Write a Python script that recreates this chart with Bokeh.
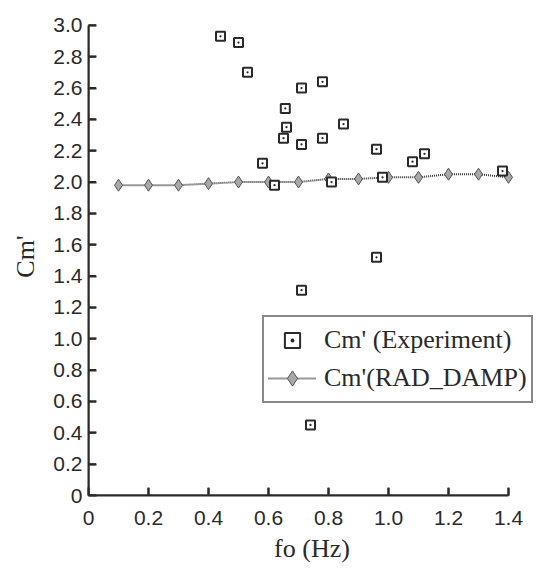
import math
from bokeh.plotting import figure
from bokeh.models import Range1d, FixedTicker, Legend, LegendItem
from bokeh.embed import file_html
from bokeh.resources import INLINE

# Experimental Cm' values
exp_f = [0.44, 0.50, 0.53, 0.58, 0.62, 0.65, 0.656, 0.66, 0.71, 0.71, 0.71,
         0.74, 0.78, 0.78, 0.81, 0.85, 0.96, 0.96, 0.98, 1.08, 1.12, 1.38]
exp_cm = [2.93, 2.89, 2.70, 2.12, 1.98, 2.28, 2.47, 2.35, 2.60, 2.24, 1.31,
          0.45, 2.64, 2.28, 2.00, 2.37, 2.21, 1.52, 2.03, 2.13, 2.18, 2.07]

# RAD_DAMP computed Cm'
rad_f = [0.1, 0.2, 0.3, 0.4, 0.5, 0.6, 0.7, 0.8, 0.9, 1.0, 1.1, 1.2, 1.3, 1.4]
rad_cm = [1.98, 1.98, 1.98, 1.99, 2.00, 2.00, 2.00, 2.02, 2.02, 2.03, 2.03,
          2.05, 2.05, 2.03]

xticks = [0, 0.2, 0.4, 0.6, 0.8, 1.0, 1.2, 1.4]
xtick_labels = ["0", "0.2", "0.4", "0.6", "0.8", "1.0", "1.2", "1.4"]
yticks = [0, 0.2, 0.4, 0.6, 0.8, 1.0, 1.2, 1.4, 1.6, 1.8, 2.0, 2.2, 2.4,
          2.6, 2.8, 3.0]
ytick_labels = ["0", "0.2", "0.4", "0.6", "0.8", "1.0", "1.2", "1.4", "1.6",
                "1.8", "2.0", "2.2", "2.4", "2.6", "2.8", "3.0"]

INK = "#2a2a2a"

p = figure(width=535, height=568, output_backend="svg", toolbar_location=None,
           x_range=Range1d(0, 1.49), y_range=Range1d(0, 3.05),
           min_border_left=88, min_border_top=17, min_border_right=0,
           min_border_bottom=73)
p.outline_line_color = None
p.xgrid.grid_line_color = None
p.ygrid.grid_line_color = None

for ax, ticks, labels in ((p.xaxis[0], xticks, xtick_labels),
                          (p.yaxis[0], yticks, ytick_labels)):
    ax.ticker = FixedTicker(ticks=ticks)
    ax.major_label_overrides = dict(zip(ticks, labels))
    ax.minor_tick_line_color = None
    ax.major_tick_in = 8
    ax.major_tick_out = 0
    ax.major_tick_line_width = 2
    ax.major_tick_line_color = INK
    ax.axis_line_width = 2
    ax.axis_line_color = INK
    ax.major_label_text_font = "Liberation Sans"
    ax.major_label_text_font_size = "21px"
    ax.major_label_text_color = INK
    ax.axis_label_text_font = "Liberation Serif"
    ax.axis_label_text_font_style = "normal"
    ax.axis_label_text_font_size = "26px"
    ax.axis_label_text_color = INK

p.xaxis.bounds = (xticks[0], xticks[-1])
p.yaxis.bounds = (yticks[0], yticks[-1])
p.xaxis.axis_label = "fo (Hz)"
p.yaxis.axis_label = "Cm'"
p.xaxis.major_label_standoff = 15
p.yaxis.major_label_standoff = 6
p.xaxis.axis_label_standoff = 6
p.yaxis.axis_label_standoff = 10

# axis rules drawn explicitly along the tick extents
p.segment(x0=[xticks[0], xticks[0]], y0=[yticks[0], yticks[0]],
          x1=[xticks[-1], xticks[0]], y1=[yticks[0], yticks[-1]],
          line_color=INK, line_width=2)
# inward tick marks (the outer half of each dash is clipped by the frame)
p.scatter(x=xticks, y=[yticks[0]] * len(xticks), marker="dash",
          angle=math.pi / 2, size=15, line_color=INK, line_width=2)
p.scatter(x=[xticks[0]] * len(yticks), y=yticks, marker="dash",
          size=15, line_color=INK, line_width=2)

rline = p.line(rad_f, rad_cm, line_color="#333333", line_width=2,
               line_dash="1 1")
rpts = p.scatter(rad_f, rad_cm, marker="diamond", size=12,
                 fill_color="#a8a8a8", line_color="#555555", line_width=1)
epts = p.scatter(exp_f, exp_cm, marker="square_dot", size=9,
                 fill_color="white", line_color="#2a2a2a", line_width=2)

legend = Legend(items=[
    LegendItem(label="Cm' (Experiment)", renderers=[epts]),
    LegendItem(label="Cm'(RAD_DAMP)", renderers=[rline, rpts]),
], location=(174, 92))
legend.label_text_font = "Liberation Serif"
legend.label_text_font_size = "26px"
legend.label_text_color = INK
legend.glyph_width = 48
legend.glyph_height = 38
legend.label_height = 38
legend.label_standoff = 8
legend.spacing = 0
legend.padding = 4
legend.margin = 0
legend.border_line_color = "#111111"
legend.border_line_width = 2.5
legend.background_fill_color = "white"
legend.background_fill_alpha = 1.0
p.add_layout(legend, "center")

open("out.html", "w").write(file_html(p, INLINE))
